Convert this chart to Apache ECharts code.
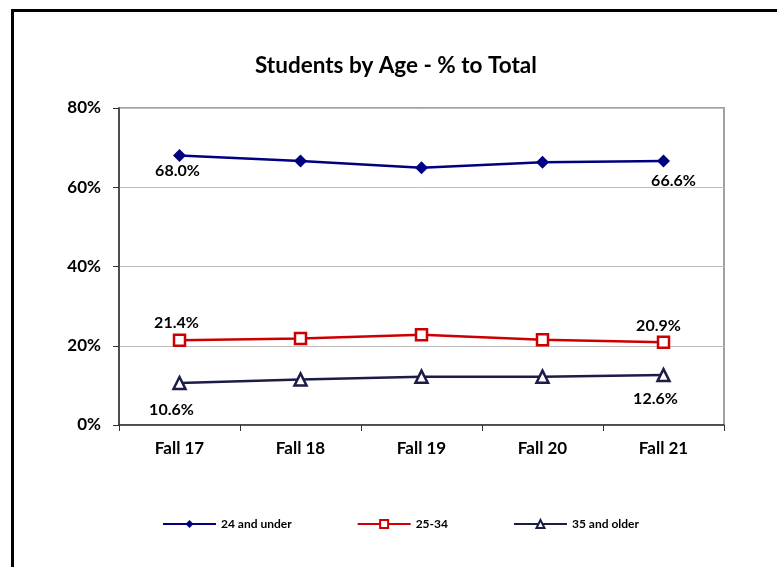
<!DOCTYPE html>
<html><head><meta charset="utf-8">
<script src="https://cdn.jsdelivr.net/npm/echarts@6/dist/echarts.min.js"></script>
<style>html,body{margin:0;padding:0;background:#fff}#c{width:777px;height:567px}</style>
</head><body><div id="c"></div>
<script>
const categories = ['Fall 17','Fall 18','Fall 19','Fall 20','Fall 21'];
const under24 = [68.0, 66.6, 64.9, 66.3, 66.6];
const age25to34 = [21.4, 21.8, 22.8, 21.5, 20.9];
const over35 = [10.6, 11.5, 12.2, 12.2, 12.6];
const yTicks = [0, 20, 40, 60, 80];

const FONT = 'Lato';
function withLabels(arr, pos, firstOff, lastOff) {
  return arr.map((v, i) => {
    if (i === 0 || i === arr.length - 1) {
      return { value: v, label: { show: true, position: pos, offset: i === 0 ? firstOff : lastOff } };
    }
    return v;
  });
}
const labelStyle = { fontFamily: FONT, fontWeight: 'bold', fontSize: 16, color: '#000',
  formatter: p => p.value.toFixed(1) + '%' };

const chart = echarts.init(document.getElementById('c'));
chart.setOption({
  animation: false,
  backgroundColor: '#fff',
  title: { text: 'Students by Age - % to Total', left: 250, top: 49,
    textStyle: { fontFamily: FONT, fontWeight: 'bold', fontSize: 22.5, color: '#000' } },
  grid: { left: 119, right: 53, top: 108, bottom: 142, show: true, borderColor: '#a0a0a0', borderWidth: 2 },
  legend: { bottom: 32, left: 157, itemWidth: 53, itemHeight: 10, itemGap: 65,
    textStyle: { fontFamily: FONT, fontWeight: 'bold', fontSize: 12, color: '#000' },
    data: ['24 and under', '25-34', '35 and older'] },
  graphic: [
    { type: 'line', shape: { x1: 12.5, y1: 10, x2: 12.5, y2: 567 }, style: { stroke: '#000', lineWidth: 3 } },
    { type: 'line', shape: { x1: 11, y1: 10.5, x2: 777, y2: 10.5 }, style: { stroke: '#000', lineWidth: 3 } }
  ],
  xAxis: { type: 'category', data: categories, boundaryGap: true,
    axisLine: { lineStyle: { color: '#333', width: 1.5 } },
    axisTick: { show: true, length: 6, lineStyle: { color: '#333' } },
    axisLabel: { fontFamily: FONT, fontWeight: 'bold', fontSize: 17, color: '#000', margin: 15 } },
  yAxis: { type: 'value', min: 0, max: 80, interval: 20,
    axisLine: { show: true, lineStyle: { color: '#333', width: 1.5 } },
    axisTick: { show: true, length: 6, lineStyle: { color: '#333' } },
    splitLine: { lineStyle: { color: '#bdbdbd' } },
    axisLabel: { fontFamily: FONT, fontWeight: 'bold', fontSize: 17, color: '#000', margin: 18,
      formatter: v => yTicks.includes(v) ? v + '%' : '' } },
  series: [
    { name: '24 and under', type: 'line', data: withLabels(under24, 'bottom', [-2, -4], [10, 0]),
      symbol: 'diamond', symbolSize: 13, color: '#000080',
      lineStyle: { width: 2.5, color: '#000080' }, itemStyle: { color: '#000080' },
      label: labelStyle },
    { name: '25-34', type: 'line', data: withLabels(age25to34, 'top', [-3, 2], [-5, 3]),
      symbol: 'rect', symbolSize: 11, color: '#CC0000',
      lineStyle: { width: 2.5, color: '#CC0000' }, itemStyle: { color: '#fff', borderColor: '#CC0000', borderWidth: 2.5 },
      label: labelStyle },
    { name: '35 and older', type: 'line', data: withLabels(over35, 'bottom', [-8, 7], [-8, 4]),
      symbol: 'triangle', symbolSize: 12, color: '#1C1C48',
      lineStyle: { width: 2.5, color: '#1C1C48' }, itemStyle: { color: '#fff', borderColor: '#1C1C48', borderWidth: 2.5 },
      label: labelStyle }
  ]
});
</script></body></html>
